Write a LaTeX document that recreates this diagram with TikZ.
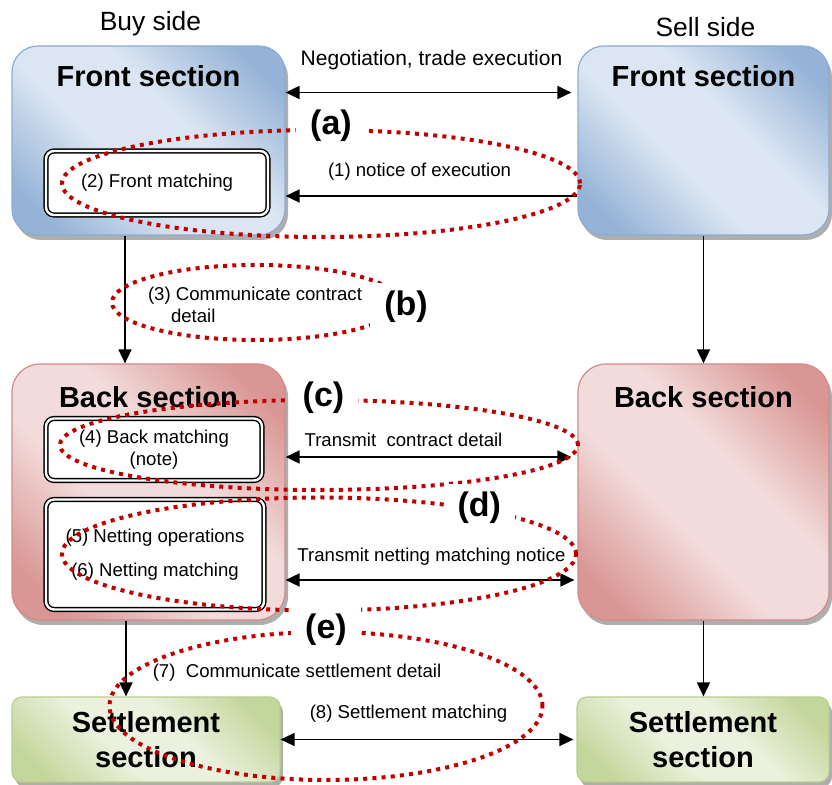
\documentclass[tikz,border=0pt]{standalone}
\usepackage{fontspec}
\setmainfont{Liberation Sans}
\usetikzlibrary{arrows.meta,shapes.geometric,shadows,positioning}

\definecolor{frontlight}{HTML}{DCE6F2}
\definecolor{frontdark}{HTML}{95B3D7}
\definecolor{frontedge}{HTML}{8AACD6}
\definecolor{backlight}{HTML}{F2DCDB}
\definecolor{backdark}{HTML}{D99694}
\definecolor{backedge}{HTML}{D48A88}
\definecolor{settlight}{HTML}{EBF1DE}
\definecolor{settdark}{HTML}{C3D69B}
\definecolor{settedge}{HTML}{B9CF8E}
\definecolor{ringred}{HTML}{C00000}

\pgfdeclarehorizontalshading{frontshade}{100bp}{color(0bp)=(frontdark); color(22bp)=(frontdark); color(42bp)=(frontlight); color(58bp)=(frontlight); color(78bp)=(frontdark); color(100bp)=(frontdark)}
\pgfdeclarehorizontalshading{backshade}{100bp}{color(0bp)=(backdark); color(22bp)=(backdark); color(42bp)=(backlight); color(58bp)=(backlight); color(78bp)=(backdark); color(100bp)=(backdark)}
\pgfdeclarehorizontalshading{settshade}{100bp}{color(0bp)=(settdark); color(22bp)=(settdark); color(42bp)=(settlight); color(58bp)=(settlight); color(78bp)=(settdark); color(100bp)=(settdark)}

\begin{document}
\begin{tikzpicture}[
    x=0.5pt, y=-0.5pt,
    section/.style={draw, line width=0.6pt, shading angle=45,
        drop shadow={shadow xshift=1.5pt, shadow yshift=-2.5pt, fill=black!45, opacity=0.7}},
    front/.style={section, draw=frontedge, shading=frontshade, rounded corners=13pt, minimum height=94.5pt},
    back/.style={section, draw=backedge, shading=backshade, rounded corners=14pt, minimum height=128pt},
    sett/.style={section, draw=settedge, shading=settshade, rounded corners=5pt, minimum height=42.5pt,
        align=center, font=\fontsize{14.5}{17.4}\selectfont\bfseries},
    sectitle/.style={font=\fontsize{14.5}{17.4}\selectfont\bfseries},
    side/.style={font=\fontsize{13.2}{16}\selectfont},
    inbox/.style={draw, line width=0.7pt, double=white, double distance=1.2pt, fill=white,
        rounded corners=4pt, align=center, font=\fontsize{9.3}{11.2}\selectfont},
    note/.style={font=\fontsize{9.3}{11.2}\selectfont},
    link/.style={line width=0.85pt},
    tip/.tip={Triangle[length=7pt, width=6.5pt]},
    ring/.style={ellipse, draw=ringred, line width=2pt, dash pattern=on 2pt off 2.6pt, inner sep=0pt},
    tag/.style={fill=white, inner xsep=7pt, inner ysep=4pt, font=\fontsize{17}{20}\selectfont\bfseries}
]
\useasboundingbox (0,0) rectangle (832,785);

% buy side and sell side sections
\node[front, minimum width=136.5pt] (fb) at (148.5,140.5) {};
\node[front, minimum width=125.5pt] (fs) at (703.5,140.5) {};
\node[back, minimum width=136.5pt] (bb) at (148.5,492) {};
\node[back, minimum width=125.5pt] (bs) at (703.5,492) {};
\node[sett, minimum width=134pt] (sb) at (146,739.5) {Settlement\\section};
\node[sett, minimum width=126pt] (ss) at (703,739.5) {Settlement\\section};

\node[sectitle] (fbt) at ([yshift=-15.5pt]fb.north) {Front section};
\node[sectitle] (fst) at ([yshift=-15.5pt]fs.north) {Front section};
\node[sectitle] (bbt) at ([yshift=-17pt]bb.north) {Back section};
\node[sectitle] (bst) at ([yshift=-17pt]bs.north) {Back section};
\node[side] (buy) at ([xshift=1pt, yshift=11pt]fb.north) {Buy side};
\node[side] (sell) at ([xshift=1pt, yshift=9pt]fs.north) {Sell side};

% matching boxes
\node[inbox, minimum width=111pt, minimum height=32pt] (m2) at (157,183) {(2) Front matching};
\node[inbox, minimum width=108pt, minimum height=31pt] (m4) at (154,449.5) {(4) Back matching\\(note)};
\node[inbox, minimum width=109pt, minimum height=55pt] (m56) at (155,554.5) {(5) Netting operations\\[5.8pt](6) Netting matching};

% flows
\draw[link, {tip}-{tip}, shorten >=3pt] ([yshift=24pt]fb.east) -- ([yshift=24pt]fs.west)
    node[midway, yshift=16pt, font=\fontsize{10.5}{12.6}\selectfont] {Negotiation, trade execution};
\draw[link, -{tip}] ([yshift=-27.75pt]fs.west) -- ([yshift=-27.75pt]fb.east)
    node[note, midway, xshift=-6pt, yshift=12pt] {(1) notice of execution};
\draw[link, -{tip}] ([xshift=-11.75pt]fb.south) -- ([xshift=-11.75pt]fb.south |- bb.north);
\draw[link, -{tip}] (fs.south) -- (fs.south |- bs.north);
\draw[link, {tip}-{tip}, shorten >=3pt] ([yshift=17.5pt]bb.east) -- ([yshift=17.5pt]bs.west)
    node[note, midway, xshift=-14pt, yshift=8.5pt] {Transmit\ \ contract detail};
\draw[link, {tip}-{tip}, shorten >=1.5pt] ([yshift=-44pt]bb.east) -- ([yshift=-44pt]bs.west)
    node[note, midway, yshift=11.5pt] {Transmit netting matching notice};
\draw[link, -{tip}] ([xshift=-11.25pt]bb.south) -- ([xshift=-11.25pt]bb.south |- sb.north);
\draw[link, -{tip}] (bs.south) -- (bs.south |- ss.north);
\draw[link, {tip}-{tip}, shorten >=1.5pt] (sb.east) -- (ss.west)
    node[note, midway, xshift=-10pt, yshift=13pt] {(8) Settlement matching};
\node[note, align=left] (t3) at (255,305) {(3) Communicate contract\\\hspace{11.5pt}detail};
\node[note] (t7) at (297,673) {(7)\ \ Communicate settlement detail};

% red rings
\node[ring, minimum width=259pt, minimum height=53.5pt] (ra) at (321,183.5) {};
\node[ring, minimum width=144pt, minimum height=37.5pt] (rb) at (256,302.5) {};
\node[ring, minimum width=259pt, minimum height=45pt] (rc) at (319,445) {};
\node[ring, minimum width=257pt, minimum height=56.5pt] (rd) at (319,554) {};
\node[ring, minimum width=216.5pt, minimum height=74pt] (re) at (326,706) {};
\node[tag] (ta) at ([xshift=5pt, yshift=1.25pt]ra.north) {(a)};
\node[tag] (tb) at ([xshift=2pt, yshift=-2.25pt]rb.east) {(b)};
\node[tag] (tc) at ([xshift=2.25pt]rc.north) {(c)};
\node[tag] (td) at (rd.16) {(d)};
\node[tag] (te) at (re.north) {(e)};
\end{tikzpicture}
\end{document}
